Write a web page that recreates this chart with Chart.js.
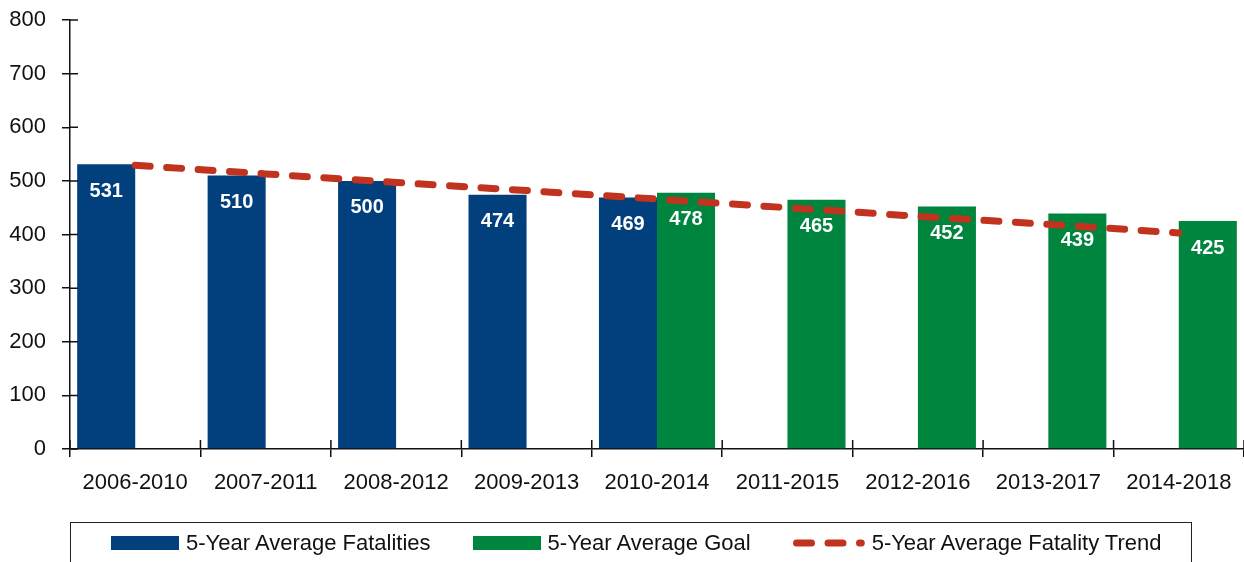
<!DOCTYPE html>
<html>
<head>
<meta charset="utf-8">
<title>5-Year Average Fatalities</title>
<script src="https://cdn.jsdelivr.net/npm/chart.js@4.4.1/dist/chart.umd.min.js"></script>
<style>
  html, body { margin: 0; padding: 0; background: #fff; }
  #wrap { position: relative; width: 1244px; height: 562px; overflow: hidden; }
  #legend {
    position: absolute; left: 70px; top: 522px; width: 1122px; height: 60px;
    box-sizing: border-box; border: 1px solid #222;
    display: flex; gap: 42px; padding: 5px 0 0 40px;
    font-family: 'Liberation Sans Narrow', 'Arial Narrow', 'Liberation Sans', Arial, sans-serif;
    font-size: 22px; color: #111;
  }
  .item { display: flex; align-items: center; gap: 7px; height: 30px; white-space: nowrap; }
  .item canvas { display: block; }
</style>
</head>
<body>
<div id="wrap">
  <canvas id="chart" width="1244" height="562"></canvas>
  <div id="legend"></div>
</div>
<script>
const categories = ['2006-2010', '2007-2011', '2008-2012', '2009-2013', '2010-2014',
                    '2011-2015', '2012-2016', '2013-2017', '2014-2018'];
const fatalities = [531, 510, 500, 474, 469, null, null, null, null];
const goals      = [null, null, null, null, 478, 465, 452, 439, 425];
const trend      = [529, 513, 497, 482, 466, 450, 434, 419, 403];
const yMin = 0;
const yMax = 800;
const yStep = 100;

const FONT = "'Liberation Sans Narrow', 'Arial Narrow', 'Liberation Sans', Arial, sans-serif";
const BLUE = '#023f7d';
const GREEN = '#00853e';
const RED = '#c1321f';
const AXIS = '#111';

// white value labels inside the top of each bar
const barValueLabels = {
    id: 'barValueLabels',
    afterDatasetDraw(chart, args) {
        const ds = chart.data.datasets[args.index];
        if (ds.type === 'line') return;
        const ctx = chart.ctx;
        ctx.save();
        ctx.font = 'bold 20px ' + FONT;
        ctx.fillStyle = '#fff';
        ctx.textAlign = 'center';
        ctx.textBaseline = 'middle';
        args.meta.data.forEach((bar, i) => {
            const v = ds.data[i];
            if (v == null) return;
            ctx.fillText(String(v), bar.x, bar.y + 27);
        });
        ctx.restore();
    }
};

// tick marks cross the axes, so add the inner half
const innerTicks = {
    id: 'innerTicks',
    afterDraw(chart) {
        const { ctx, scales: { x, y } } = chart;
        ctx.save();
        ctx.strokeStyle = AXIS;
        ctx.lineWidth = 1.5;
        ctx.beginPath();
        y.ticks.forEach((t, i) => {
            const py = y.getPixelForTick(i);
            ctx.moveTo(x.left, py);
            ctx.lineTo(x.left + 8, py);
        });
        for (let i = 0; i <= categories.length; i++) {
            const px = x.getPixelForValue(i - 0.5);
            ctx.moveTo(px, y.bottom);
            ctx.lineTo(px, y.bottom - 9);
        }
        ctx.stroke();
        ctx.restore();
    }
};

const ctx = document.getElementById('chart').getContext('2d');
const chart = new Chart(ctx, {
    type: 'bar',
    data: {
        labels: categories,
        datasets: [
            { label: '5-Year Average Fatalities', backgroundColor: BLUE, data: fatalities,
              categoryPercentage: 0.89, barPercentage: 1.0, order: 1 },
            { label: '5-Year Average Goal', backgroundColor: GREEN, data: goals,
              categoryPercentage: 0.89, barPercentage: 1.0, order: 1 },
            { type: 'line', label: '5-Year Average Fatality Trend', data: trend,
              borderColor: RED, backgroundColor: RED, borderWidth: 7,
              borderDash: [15, 16.5], borderCapStyle: 'round',
              pointRadius: 0, fill: false, tension: 0, order: 0 }
        ]
    },
    options: {
        responsive: false,
        animation: false,
        layout: { padding: { top: 20, right: 0, bottom: 0, left: 0 } },
        plugins: { legend: { display: false }, tooltip: { enabled: false } },
        scales: {
            x: {
                grid: { drawOnChartArea: false, offset: true, tickLength: 8, color: AXIS, lineWidth: 1.5 },
                border: { display: true, color: AXIS, width: 1.5 },
                ticks: { color: '#111', font: { family: FONT, size: 22 }, padding: 13,
                         maxRotation: 0, autoSkip: false },
                afterFit(scale) {
                    scale.height = 113;
                    scale.paddingLeft = 0;
                    scale.paddingRight = 0;
                }
            },
            y: {
                min: yMin, max: yMax,
                grid: { drawOnChartArea: false, tickLength: 8, color: AXIS, lineWidth: 1.5 },
                border: { display: true, color: AXIS, width: 1.5 },
                ticks: { stepSize: yStep, color: '#111', font: { family: FONT, size: 22 }, padding: 16 },
                afterFit(scale) {
                    scale.width = 70;
                    scale.paddingTop = 0;
                    scale.paddingBottom = 0;
                }
            }
        }
    },
    plugins: [barValueLabels, innerTicks]
});

// legend built from the datasets
const legend = document.getElementById('legend');
chart.data.datasets.forEach(ds => {
    const item = document.createElement('div');
    item.className = 'item';
    const sw = document.createElement('canvas');
    const c = sw.getContext('2d');
    if (ds.type === 'line') {
        sw.width = 72; sw.height = 14;
        c.strokeStyle = ds.borderColor;
        c.lineWidth = ds.borderWidth;
        c.lineCap = 'round';
        c.setLineDash(ds.borderDash);
        c.beginPath();
        c.moveTo(3.5, 7);
        c.lineTo(68.3, 7);
        c.stroke();
    } else {
        sw.width = 68; sw.height = 14;
        c.fillStyle = ds.backgroundColor;
        c.fillRect(0, 0, 68, 14);
    }
    const txt = document.createElement('span');
    txt.textContent = ds.label;
    item.appendChild(sw);
    item.appendChild(txt);
    legend.appendChild(item);
});
</script>
</body>
</html>
